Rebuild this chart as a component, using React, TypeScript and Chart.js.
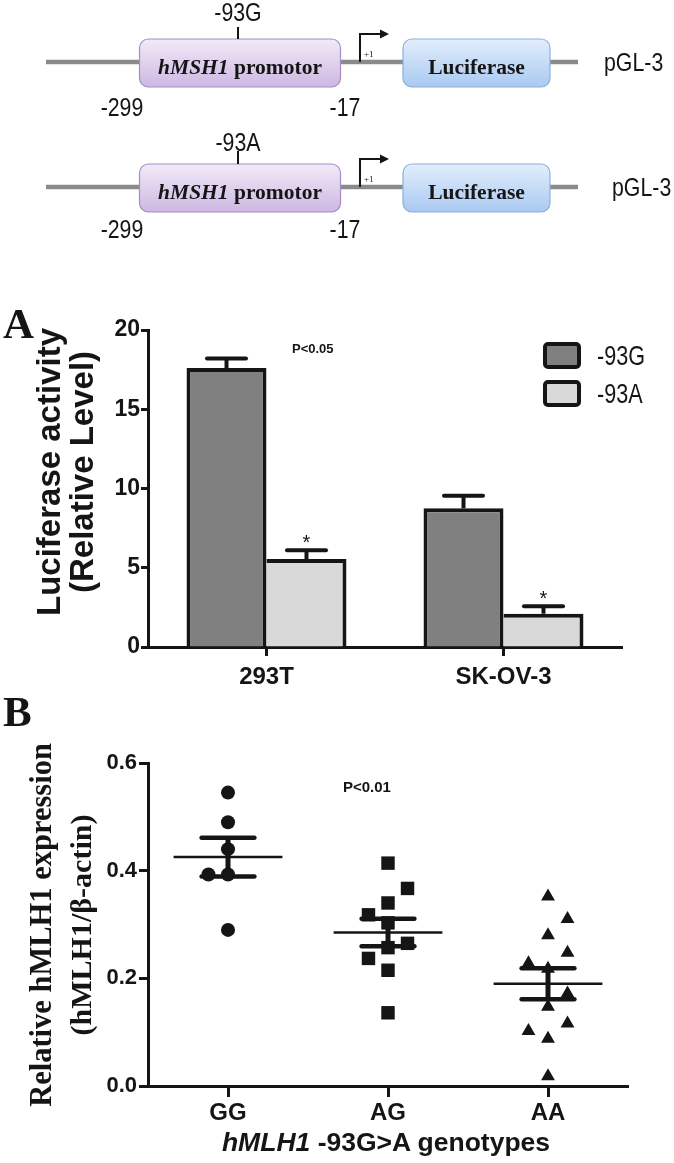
import React, { useEffect, useRef } from "react";
import { Chart, registerables } from "chart.js";

Chart.register(...registerables);

const SANS = "'Liberation Sans', Arial, sans-serif";
const SERIF = "'Liberation Serif', 'Times New Roman', serif";
const INK = "#151515";

// ---------- Panel A data ----------
const cellLines = ["293T", "SK-OV-3"];
const seriesNames = ["-93G", "-93A"];
const g93Values = [17.6, 8.75];
const g93Errors = [0.6, 0.8];
const a93Values = [5.55, 2.1];
const a93Errors = [0.55, 0.47];
const a93Marks = ["*", "*"];
const luciferaseTicks = [0, 5, 10, 15, 20];

// ---------- Panel B data ----------
const genotypes = ["GG", "AG", "AA"];
const ggValues = [0.545, 0.49, 0.44, 0.393, 0.393, 0.29];
const ggLanes = [0, 0, 0, -1, 0, 0];
const agValues = [0.414, 0.367, 0.34, 0.318, 0.303, 0.265, 0.257, 0.237, 0.215, 0.136];
const agLanes = [0, 1, 0, -1, 0, 1, 0, -1, 0, 0];
const aaValues = [0.352, 0.31, 0.28, 0.2475, 0.228, 0.218, 0.172, 0.147, 0.116, 0.102, 0.088, 0.018];
const aaLanes = [0, 1, 0, 1, -1, 0, 1, 0, 1, -1, 0, 0];
const expressionTicks = [0, 0.2, 0.4, 0.6];

const JITTER = 0.122;
const MEAN_HALF = 0.34;
const SEM_HALF = 0.165;

function meanSem(vals: number[]) {
  const n = vals.length;
  const m = vals.reduce((a, b) => a + b, 0) / n;
  const sd = Math.sqrt(vals.reduce((a, b) => a + (b - m) * (b - m), 0) / (n - 1));
  return [m, sd / Math.sqrt(n)];
}

const errorBarPlugin = {
  id: "errorBars",
  afterDatasetsDraw(chart: any) {
    const { ctx } = chart;
    const yScale = chart.scales.y;
    chart.data.datasets.forEach((ds: any, di: number) => {
      const meta = chart.getDatasetMeta(di);
      meta.data.forEach((bar: any, i: number) => {
        const v = ds.data[i];
        const e = ds.errors ? ds.errors[i] : null;
        if (e == null) return;
        const yv = yScale.getPixelForValue(v);
        const ye = yScale.getPixelForValue(v + e);
        ctx.save();
        ctx.strokeStyle = INK;
        ctx.lineWidth = 4;
        ctx.beginPath();
        ctx.moveTo(bar.x, yv);
        ctx.lineTo(bar.x, ye);
        ctx.stroke();
        ctx.lineCap = "round";
        ctx.beginPath();
        ctx.moveTo(bar.x - 19.5, ye);
        ctx.lineTo(bar.x + 19.5, ye);
        ctx.stroke();
        if (ds.marks && ds.marks[i]) {
          ctx.fillStyle = INK;
          ctx.font = `20px ${SANS}`;
          ctx.textAlign = "center";
          ctx.textBaseline = "alphabetic";
          ctx.fillText(ds.marks[i], bar.x, ye - 1);
        }
        ctx.restore();
      });
    });
  },
};

function PanelA() {
  const ref = useRef<HTMLCanvasElement>(null);
  useEffect(() => {
    const chart = new Chart(ref.current as HTMLCanvasElement, {
      type: "bar",
      data: {
        labels: cellLines,
        datasets: [
          {
            label: seriesNames[0],
            data: g93Values,
            errors: g93Errors,
            backgroundColor: "#808080",
            borderColor: INK,
            borderWidth: { top: 4, left: 4, right: 4, bottom: 0 },
            categoryPercentage: 0.675,
            barPercentage: 1,
          } as any,
          {
            label: seriesNames[1],
            data: a93Values,
            errors: a93Errors,
            marks: a93Marks,
            backgroundColor: "#d9d9d9",
            borderColor: INK,
            borderWidth: { top: 4, left: 0, right: 4, bottom: 0 },
            categoryPercentage: 0.675,
            barPercentage: 1,
          } as any,
        ],
      },
      options: {
        responsive: false,
        animation: false,
        layout: { padding: { top: 20, right: 52, left: 0, bottom: 0 } },
        plugins: { legend: { display: false }, tooltip: { enabled: false } },
        scales: {
          x: {
            offset: true,
            grid: { offset: false, drawOnChartArea: false, tickLength: 9, tickWidth: 3, tickColor: INK },
            border: { color: INK, width: 3 },
            ticks: { color: INK, padding: 7, font: { family: SANS, size: 24, weight: "bold" } },
            afterFit: (s: any) => { s.height = 63; },
          },
          y: {
            min: 0,
            max: 20,
            afterBuildTicks: (s: any) => { s.ticks = luciferaseTicks.map((v) => ({ value: v })); },
            grid: { drawOnChartArea: false, tickLength: 7, tickWidth: 3, tickColor: INK },
            border: { color: INK, width: 3 },
            ticks: { color: INK, padding: 1, font: { family: SANS, size: 23, weight: "bold" } },
            afterFit: (s: any) => { s.width = 148; },
          },
        },
      } as any,
      plugins: [errorBarPlugin],
    });
    return () => chart.destroy();
  }, []);
  return (
    <canvas
      ref={ref}
      width={674}
      height={400}
      style={{ position: "absolute", left: 0, top: 310, width: 674, height: 400 }}
    />
  );
}

function PanelB() {
  const ref = useRef<HTMLCanvasElement>(null);
  useEffect(() => {
    const groups = [
      { values: ggValues, lanes: ggLanes, style: "circle", radius: 7 },
      { values: agValues, lanes: agLanes, style: "rect", radius: 9.5 },
      { values: aaValues, lanes: aaLanes, style: "triangle", radius: 8 },
    ];
    const lineDs = (pts: { x: number; y: number }[], w: number, cap: string) => ({
      data: pts,
      showLine: true,
      pointRadius: 0,
      borderColor: INK,
      borderWidth: w,
      borderCapStyle: cap,
      fill: false,
    });
    const datasets: any[] = [];
    groups.forEach((g, i) => {
      datasets.push({
        data: g.values.map((v, k) => ({ x: i + g.lanes[k] * JITTER, y: v })),
        pointStyle: g.style,
        pointRadius: g.radius,
        backgroundColor: INK,
        borderColor: INK,
        borderWidth: 0,
        showLine: false,
      });
    });
    groups.forEach((g, i) => {
      const [m, s] = meanSem(g.values);
      datasets.push(lineDs([{ x: i - MEAN_HALF, y: m }, { x: i + MEAN_HALF, y: m }], 2.5, "butt"));
      datasets.push(lineDs([{ x: i - SEM_HALF, y: m + s }, { x: i + SEM_HALF, y: m + s }], 4.5, "round"));
      datasets.push(lineDs([{ x: i - SEM_HALF, y: m - s }, { x: i + SEM_HALF, y: m - s }], 4.5, "round"));
      datasets.push(lineDs([{ x: i, y: m + s }, { x: i, y: m - s }], 5, "butt"));
    });
    const chart = new Chart(ref.current as HTMLCanvasElement, {
      type: "scatter",
      data: { datasets },
      options: {
        responsive: false,
        animation: false,
        layout: { padding: { top: 23, right: 46, left: 0, bottom: 0 } },
        plugins: { legend: { display: false }, tooltip: { enabled: false } },
        scales: {
          x: {
            type: "linear",
            min: -0.5,
            max: 2.5,
            afterBuildTicks: (s: any) => { s.ticks = genotypes.map((_, i) => ({ value: i })); },
            grid: { drawOnChartArea: false, tickLength: 11, tickWidth: 3, tickColor: INK },
            border: { color: INK, width: 3 },
            ticks: {
              color: INK,
              padding: 2,
              font: { family: SANS, size: 24, weight: "bold" },
              callback: (v: any) => genotypes[Math.round(Number(v))],
            },
            afterFit: (s: any) => { s.height = 77; },
          },
          y: {
            min: 0,
            max: 0.6,
            afterBuildTicks: (s: any) => { s.ticks = expressionTicks.map((v) => ({ value: v })); },
            grid: { drawOnChartArea: false, tickLength: 9, tickWidth: 3, tickColor: INK },
            border: { color: INK, width: 3 },
            ticks: {
              color: INK,
              padding: 2,
              font: { family: SANS, size: 22, weight: "bold" },
              callback: (v: any) => Number(v).toFixed(1),
            },
            afterFit: (s: any) => { s.width = 148; },
          },
        },
      } as any,
    });
    return () => chart.destroy();
  }, []);
  return (
    <canvas
      ref={ref}
      width={674}
      height={423}
      style={{ position: "absolute", left: 0, top: 740, width: 674, height: 423 }}
    />
  );
}

function Construct({ L, allele, labelBase, tickTop, tickBottom, bottomBase, pglX }: any) {
  const boxTop = L - 23;
  return (
    <g>
      <line x1={46} y1={L} x2={578} y2={L} stroke="#8a8a8a" strokeWidth={4.5} />
      <rect x={139.5} y={boxTop} width={201} height={48} rx={9} fill="url(#promGrad)" stroke="#a58cc2" strokeWidth={1.2} />
      <rect x={403} y={boxTop} width={147} height={48} rx={9} fill="url(#lucGrad)" stroke="#8db0dc" strokeWidth={1.2} />
      <line x1={238} y1={tickTop} x2={238} y2={tickBottom} stroke={INK} strokeWidth={2} />
      <text transform={`translate(238 ${labelBase}) scale(0.82 1)`} textAnchor="middle" fontFamily={SANS} fontSize={26} fill={INK}>{allele}</text>
      <text x={240} y={L + 12} textAnchor="middle" fontFamily={SERIF} fontWeight="bold" fontSize={21.5} fill={INK}>
        <tspan fontStyle="italic">hMSH1</tspan> promotor
      </text>
      <text x={476.5} y={L + 12} textAnchor="middle" fontFamily={SERIF} fontWeight="bold" fontSize={21.5} fill={INK}>Luciferase</text>
      <path d={`M360 ${L} V${L - 28} H382`} fill="none" stroke={INK} strokeWidth={2} />
      <polygon points={`380,${L - 32.5} 389,${L - 28} 380,${L - 23.5}`} fill={INK} />
      <text x={364} y={L - 5} fontFamily={SERIF} fontSize={9} fill={INK}>+1</text>
      <text transform={`translate(122 ${bottomBase}) scale(0.82 1)`} textAnchor="middle" fontFamily={SANS} fontSize={26} fill={INK}>-299</text>
      <text transform={`translate(345 ${bottomBase}) scale(0.82 1)`} textAnchor="middle" fontFamily={SANS} fontSize={26} fill={INK}>-17</text>
      <text transform={`translate(${pglX} ${L + 9}) scale(0.82 1)`} fontFamily={SANS} fontSize={26} fill={INK}>pGL-3</text>
    </g>
  );
}

function Overlay() {
  return (
    <svg
      width={674}
      height={1163}
      style={{ position: "absolute", left: 0, top: 0, pointerEvents: "none" }}
    >
      <defs>
        <linearGradient id="promGrad" x1="0" y1="0" x2="0" y2="1">
          <stop offset="0" stopColor="#f2eaf8" />
          <stop offset="1" stopColor="#cdb8e2" />
        </linearGradient>
        <linearGradient id="lucGrad" x1="0" y1="0" x2="0" y2="1">
          <stop offset="0" stopColor="#e2eefc" />
          <stop offset="1" stopColor="#a9c9f1" />
        </linearGradient>
      </defs>
      <Construct L={62} allele="-93G" labelBase={21} tickTop={27} tickBottom={39} bottomBase={116} pglX={604} />
      <Construct L={187} allele="-93A" labelBase={151} tickTop={151} tickBottom={164} bottomBase={238} pglX={612} />

      {/* Panel A annotations */}
      <text x={3} y={338} fontFamily={SERIF} fontWeight="bold" fontSize={43} fill={INK}>A</text>
      <text x={292} y={353} fontFamily={SANS} fontWeight="bold" fontSize={13} fill={INK}>P&lt;0.05</text>
      <text transform="translate(60 472) rotate(-90)" textAnchor="middle" fontFamily={SANS} fontWeight="bold" fontSize={33} fill={INK}>Luciferase activity</text>
      <text transform="translate(93 472) rotate(-90)" textAnchor="middle" fontFamily={SANS} fontWeight="bold" fontSize={33} fill={INK}>(Relative Level)</text>
      <rect x={545} y={344} width={34} height={23} rx={3} fill="#808080" stroke={INK} strokeWidth={4} />
      <rect x={545} y={382} width={34} height={23} rx={3} fill="#d9d9d9" stroke={INK} strokeWidth={4} />
      <text transform="translate(597 365) scale(0.8 1)" fontFamily={SANS} fontSize={27} fill={INK}>{seriesNames[0]}</text>
      <text transform="translate(597 403) scale(0.8 1)" fontFamily={SANS} fontSize={27} fill={INK}>{seriesNames[1]}</text>

      {/* Panel B annotations */}
      <text x={3} y={726} fontFamily={SERIF} fontWeight="bold" fontSize={43} fill={INK}>B</text>
      <text x={343} y={792} fontFamily={SANS} fontWeight="bold" fontSize={15} fill={INK}>P&lt;0.01</text>
      <text transform="translate(50.5 925) rotate(-90)" textAnchor="middle" fontFamily={SERIF} fontWeight="bold" fontSize={30.5} fill={INK}>Relative hMLH1 expression</text>
      <text transform="translate(90.5 925) rotate(-90)" textAnchor="middle" fontFamily={SERIF} fontWeight="bold" fontSize={30} fill={INK}>(hMLH1/β-actin)</text>
      <text x={386} y={1151} textAnchor="middle" fontFamily={SANS} fontWeight="bold" fontSize={26.5} fill={INK}>
        <tspan fontStyle="italic">hMLH1</tspan> -93G&gt;A genotypes
      </text>
    </svg>
  );
}

export default function App() {
  return (
    <div style={{ position: "absolute", left: 0, top: 0, width: 674, height: 1163, background: "#fff", overflow: "hidden" }}>
      <PanelA />
      <PanelB />
      <Overlay />
    </div>
  );
}
